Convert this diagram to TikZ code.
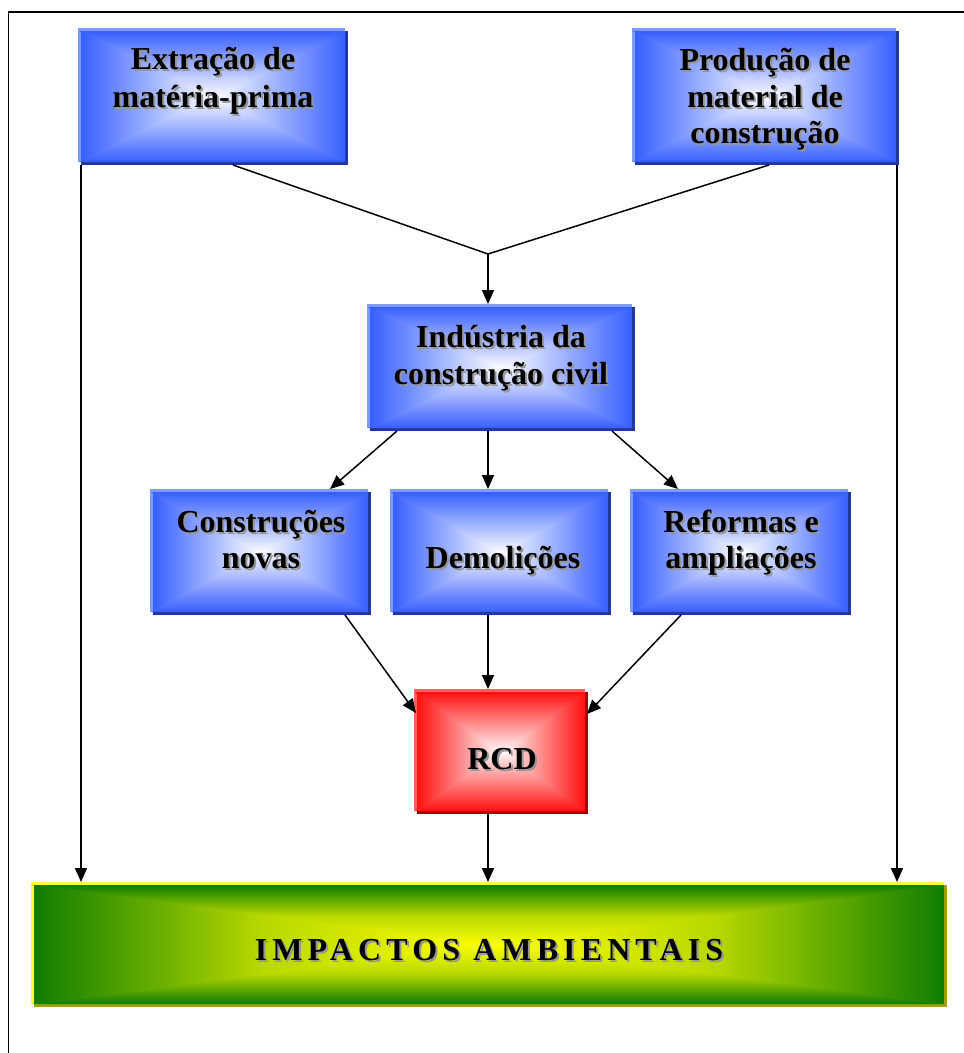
\documentclass[tikz,border=0pt]{standalone}
\usepackage{fontspec}
\setmainfont{Liberation Serif}
\usetikzlibrary{arrows.meta,calc,shadows,fit}

\definecolor{bEdge}{RGB}{55,95,255}
\definecolor{bHl}{RGB}{125,155,255}
\definecolor{bSh}{RGB}{30,55,165}
\definecolor{rEdge}{RGB}{255,15,15}
\definecolor{rHl}{RGB}{255,95,95}
\definecolor{rSh}{RGB}{165,0,0}
\definecolor{gEdge}{RGB}{15,125,0}
\definecolor{gCen}{RGB}{255,255,0}
\definecolor{gHl}{RGB}{255,255,60}
\definecolor{gSh}{RGB}{160,160,0}
\definecolor{txtSh}{RGB}{150,150,150}

\newcommand\sh[1]{\rlap{\kern2pt\raisebox{-2pt}{\textcolor{txtSh}{#1}}}#1}

\tikzset{
  shbox/.style n args={5}{rectangle, inner sep=0pt, outer sep=0pt, fill=#3,
    drop shadow={shadow xshift=3pt, shadow yshift=-3pt, fill=#4, opacity=1},
    path picture={
      \path (path picture bounding box.north west) ++(3pt,-3pt) coordinate (pNW);
      \path (path picture bounding box.south east) coordinate (pSE);
      \path (pSE |- pNW) coordinate (pNE);
      \path (pNW |- pSE) coordinate (pSW);
      \path ($(pNW)!0.5!(pSE)$) coordinate (pC);
      \shade[left color=#1, right color=#2, middle color=#5] (pNW) -- (pSW) -- (pC) -- cycle;
      \shade[left color=#2, right color=#1, middle color=#5] (pNE) -- (pSE) -- (pC) -- cycle;
      \shade[top color=#1, bottom color=#2, middle color=#5] ($(pNW)+(-2,0)$) -- ($(pNE)+(2,0)$) -- ($(pC)+(0,1.5)$) -- cycle;
      \shade[top color=#2, bottom color=#1, middle color=#5] ($(pSW)+(-2,0)$) -- ($(pSE)+(2,0)$) -- ($(pC)+(0,-1.5)$) -- cycle;
    }},
  bluebox/.style={shbox={bEdge}{white}{bHl}{bSh}{bEdge!50!white}},
  redbox/.style={shbox={rEdge}{white}{rHl}{rSh}{rEdge!50!white}},
  greenbox/.style={shbox={gEdge}{gCen}{gHl}{gSh}{gCen!70!gEdge}},
  lbl/.style={inner sep=0pt, anchor=base, font=\fontsize{32}{38}\selectfont\bfseries},
  biglbl/.style={inner sep=0pt, anchor=base, font=\fontsize{32}{38}\selectfont\bfseries\addfontfeature{LetterSpace=16}},
  conn/.style={line width=1.5pt, black},
  arr/.style={conn, -{Triangle[length=14pt,width=12pt]}},
}

\begin{document}
\begin{tikzpicture}[x=1pt,y=-1pt]
\useasboundingbox (0,0) rectangle (964,1053);
\draw[line width=1.8pt] (8.5,1053) -- (8.5,12) -- (964,12);

% boxes
\node[bluebox, fit={(78,28) (345,162)}] (ext) {};
\node[bluebox, fit={(632,28) (896,162)}] (prod) {};
\node[bluebox, fit={(367,304) (632,428)}] (ind) {};
\node[bluebox, fit={(150,489) (368,612)}] (con) {};
\node[bluebox, fit={(390,489) (608,612)}] (dem) {};
\node[bluebox, fit={(630,489) (848,612)}] (ref) {};
\node[redbox, fit={(414,689) (585,811)}] (rcd) {};
\node[greenbox, fit={(31,882) (944,1004)}] (imp) {};

% texts
\node[lbl] (t1a) at (213,69) {\sh{Extração de}};
\node[lbl] (t1b) at (213,107) {\sh{matéria-prima}};
\node[lbl] (t2a) at (765,70) {\sh{Produção de}};
\node[lbl] (t2b) at (765,107) {\sh{material de}};
\node[lbl] (t2c) at (765,143) {\sh{construção}};
\node[lbl] (t3a) at (501,347) {\sh{Indústria da}};
\node[lbl] (t3b) at (501,384) {\sh{construção civil}};
\node[lbl] (t4a) at (261,532) {\sh{Construções}};
\node[lbl] (t4b) at (261,568) {\sh{novas}};
\node[lbl] (t5) at (503,568) {\sh{Demolições}};
\node[lbl] (t6a) at (741,532) {\sh{Reformas e}};
\node[lbl] (t6b) at (741,568) {\sh{ampliações}};
\node[lbl] (t7) at (502,769) {\sh{RCD}};
\node[biglbl] (t8) at (489,960) {\sh{IMPACTOS AMBIENTAIS}};

% connectors
\coordinate (join) at (488,254);
\draw[conn] ($(ext.south)+(21.5,3)$) -- (join);
\draw[conn] ($(prod.south)+(5,3)$) -- (join);
\draw[arr] (join) -- (join |- ind.north);
\draw[arr] ($(ext.south west)+(3,3)$) coordinate (lx) -- (lx |- imp.north);
\draw[arr] ($(prod.south east)+(1,3)$) coordinate (rx) -- (rx |- imp.north);
\draw[arr] ($(ind.south)+(-102.5,3)$) -- ($(con.north)+(71,0)$);
\draw[arr] ($(join |- ind.south)+(0,3)$) -- (join |- dem.north);
\draw[arr] ($(ind.south)+(112.5,3)$) -- ($(ref.north)+(-61,0)$);
\draw[arr] ($(con.south)+(86,3)$) -- ($(rcd.north west)+(2,24)$);
\draw[arr] ($(join |- dem.south)+(0,3)$) -- (join |- rcd.north);
\draw[arr] ($(ref.south)+(-58,3)$) -- ($(rcd.north east)+(2,25)$);
\draw[arr] ($(join |- rcd.south)+(0,3)$) -- (join |- imp.north);
\end{tikzpicture}
\end{document}
